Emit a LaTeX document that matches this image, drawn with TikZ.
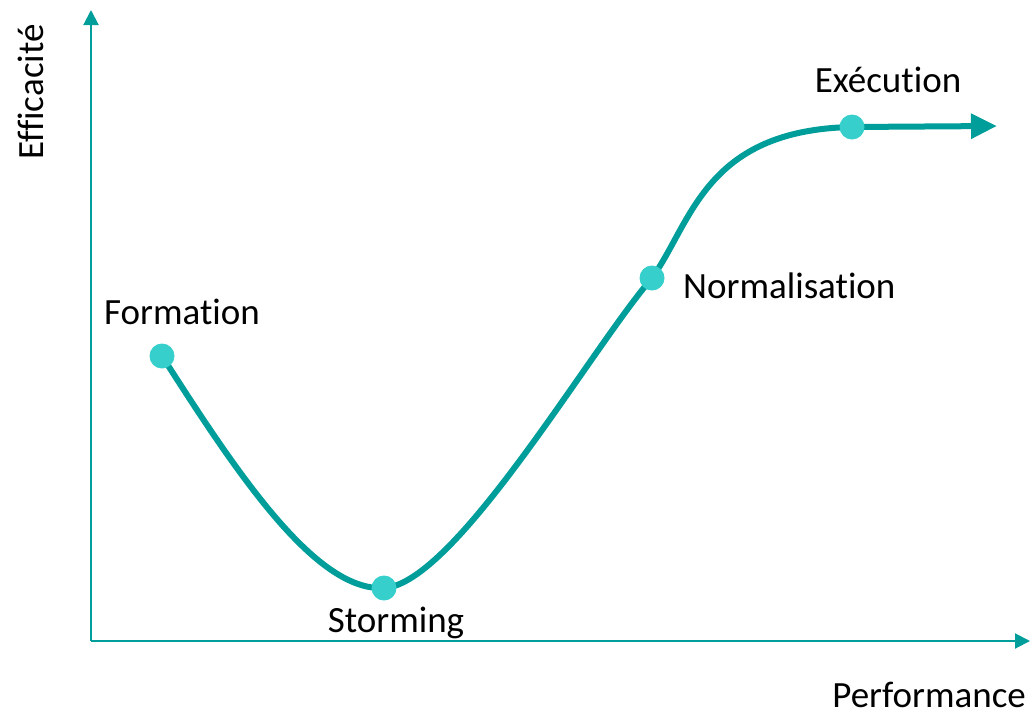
\documentclass[tikz,border=0pt]{standalone}
\usepackage{fontspec}
\setmainfont{Carlito}[Ligatures=NoCommon]
\usepackage{tikz}
\usetikzlibrary{positioning,arrows.meta,calc}

\definecolor{tealline}{HTML}{009E9A}
\definecolor{tealdot}{HTML}{36CFCB}

\begin{document}
\begin{tikzpicture}[
    x=1pt, y=-1pt,
    axis/.style={tealline, line width=2pt, -{Triangle[length=15pt, width=15pt]}},
    curve/.style={tealline, line width=6pt, line cap=round},
    stage/.style={circle, fill=tealdot, inner sep=0pt, minimum size=25pt},
    lbl/.style={font=\fontsize{37}{42}\selectfont, inner sep=0pt},
]
  \useasboundingbox (0,0) rectangle (1030,712);

  % axes
  \coordinate (o) at (91,641);
  \coordinate (ytop) at (91,10);
  \coordinate (xend) at (1030,641);
  \draw[axis] (o) -- (ytop);
  \draw[axis] (o) -- (xend);
  \node[lbl, rotate=90] (ylab) at (31,92) {Efficacité};
  \node[lbl, anchor=south east] (xlab) at (1026,708) {Performance};

  % stages of the curve
  \coordinate (f) at (162,356);
  \coordinate (s) at (384,588);
  \coordinate (n) at (652,278);
  \coordinate (e) at (852,127);
  \coordinate (end) at (997,126);

  \draw[curve] (f) .. controls (235,470) and (315,592) .. (s)
               .. controls (455,584) and (590,350) .. (n)
               .. controls (692,222) and (705,130) .. (e);
  \draw[curve, line cap=butt, -{Triangle[length=26pt, width=24pt]}] (e) -- (end);

  \node[stage] (fdot) at (f) {};
  \node[stage] (sdot) at (s) {};
  \node[stage] (ndot) at (n) {};
  \node[stage] (edot) at (e) {};

  \node[lbl] (flab) at (182,312) {Formation};
  \node[lbl] (slab) at (396,623) {Storming};
  \node[lbl, anchor=west] (nlab) at (683,286) {Normalisation};
  \node[lbl] (elab) at (888,80) {Exécution};
\end{tikzpicture}
\end{document}
